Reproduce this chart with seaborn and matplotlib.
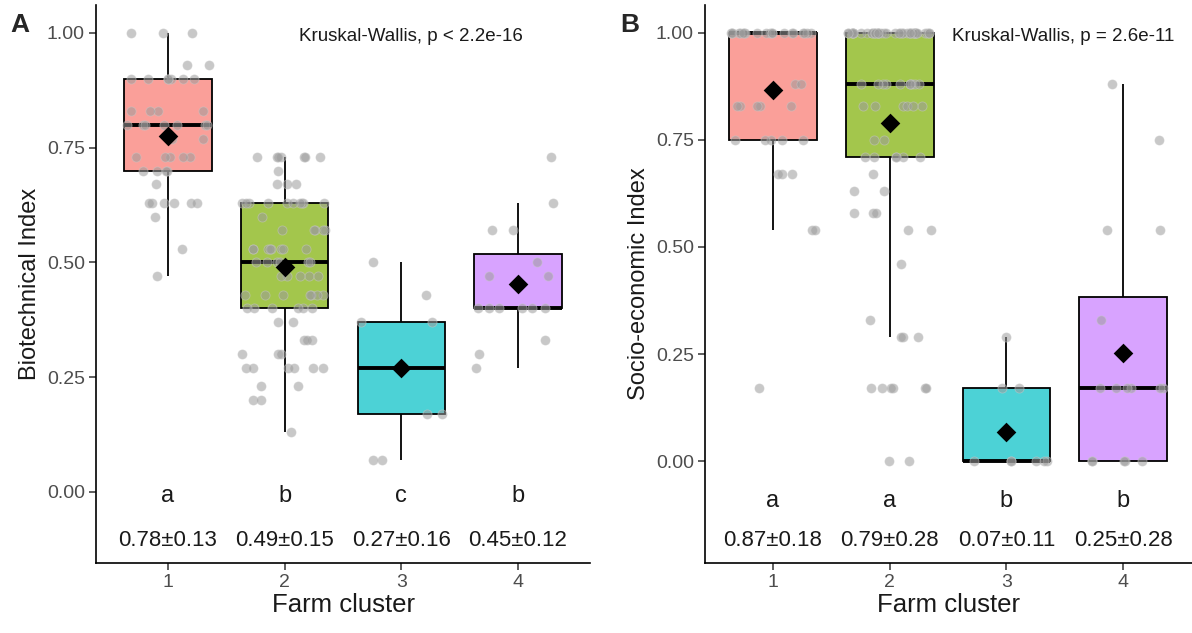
import numpy as np
import pandas as pd
import matplotlib
matplotlib.use("Agg")
import matplotlib.pyplot as plt
import seaborn as sns

# ---------------- data ----------------
clusters = ["1", "2", "3", "4"]

# Panel A : Biotechnical Index, observed levels and how many farms sit on each level
bio_c1_levels = [1.00, 0.93, 0.90, 0.83, 0.80, 0.77, 0.73, 0.70, 0.67, 0.63, 0.60, 0.53, 0.47]
bio_c1_counts = [3, 2, 7, 4, 7, 2, 5, 4, 1, 6, 1, 1, 1]
bio_c2_levels = [0.73, 0.70, 0.67, 0.63, 0.60, 0.57, 0.53, 0.50, 0.47, 0.43, 0.40, 0.37, 0.33, 0.30, 0.27, 0.23, 0.20, 0.13]
bio_c2_counts = [7, 1, 3, 10, 1, 5, 8, 6, 5, 7, 6, 2, 3, 3, 6, 2, 2, 1]
bio_c3_levels = [0.50, 0.43, 0.37, 0.27, 0.17, 0.07]
bio_c3_counts = [1, 1, 2, 1, 2, 2]
bio_c4_levels = [0.73, 0.63, 0.57, 0.50, 0.47, 0.40, 0.33, 0.30, 0.27]
bio_c4_counts = [1, 1, 2, 1, 2, 6, 1, 1, 1]
bio_means = [0.775, 0.49, 0.27, 0.452]
bio_letters = ["a", "b", "c", "b"]
bio_stats = ["0.78±0.13", "0.49±0.15", "0.27±0.16", "0.45±0.12"]
bio_test = "Kruskal-Wallis, p < 2.2e-16"

# Panel B : Socio-economic Index
soc_c1_levels = [1.00, 0.88, 0.83, 0.75, 0.67, 0.54, 0.17]
soc_c1_counts = [20, 2, 5, 5, 3, 2, 1]
soc_c2_levels = [1.00, 0.88, 0.83, 0.75, 0.71, 0.67, 0.63, 0.58, 0.54, 0.46, 0.33, 0.29, 0.17, 0.00]
soc_c2_counts = [41, 10, 6, 2, 6, 1, 2, 3, 2, 1, 1, 3, 6, 2]
soc_c3_levels = [0.29, 0.17, 0.00]
soc_c3_counts = [1, 2, 6]
soc_c4_levels = [0.88, 0.75, 0.54, 0.33, 0.17, 0.00]
soc_c4_counts = [1, 1, 2, 1, 6, 5]
soc_means = [0.866, 0.789, 0.068, 0.253]
soc_letters = ["a", "a", "b", "b"]
soc_stats = ["0.87±0.18", "0.79±0.28", "0.07±0.11", "0.25±0.28"]
soc_test = "Kruskal-Wallis, p = 2.6e-11"

yticks = [0.00, 0.25, 0.50, 0.75, 1.00]
ytick_labels = ["0.00", "0.25", "0.50", "0.75", "1.00"]

# ---------------- style ----------------
box_colors = ["#FA9F99", "#A3C64C", "#4CD2D6", "#D8A3FF"]
FONT = ["Liberation Sans", "DejaVu Sans"]

sns.set_theme(style="white")
plt.rcParams["font.family"] = FONT


def build_frame(level_lists, count_lists):
    rows = []
    for cl, lv, ct in zip(clusters, level_lists, count_lists):
        for v, c in zip(lv, ct):
            rows += [(cl, v)] * c
    return pd.DataFrame(rows, columns=["cluster", "value"])


def draw_panel(ax, df, means, letters, stats, test, ylab, ylim, xlim,
               letter_y, stat_y, test_x, test_y, seed):
    sns.boxplot(data=df, x="cluster", y="value", hue="cluster",
                order=clusters, hue_order=clusters, palette=box_colors,
                width=0.75, showfliers=False, linecolor="black", linewidth=1.3,
                medianprops=dict(linewidth=2.8, color="black"),
                capprops=dict(visible=False),
                saturation=1, legend=False, ax=ax)
    np.random.seed(seed)
    sns.stripplot(data=df, x="cluster", y="value", order=clusters,
                  color="#9c9c9c", alpha=0.55, size=6.6, jitter=0.37,
                  linewidth=0.6, edgecolor="#c8c8c8", ax=ax, zorder=4)
    ax.scatter(np.arange(len(clusters)), means, marker="D", s=100,
               color="black", zorder=6, linewidths=0)
    for i, (l, s) in enumerate(zip(letters, stats)):
        ax.text(i, letter_y, l, ha="center", va="center", fontsize=17,
                color="#1a1a1a")
        ax.text(i, stat_y, s, ha="center", va="center", fontsize=16,
                color="#1a1a1a")
    ax.text(test_x, test_y, test, ha="center", va="center", fontsize=13.5,
            color="#1a1a1a")
    ax.set_xlim(*xlim)
    ax.set_ylim(*ylim)
    ax.set_yticks(yticks)
    ax.set_yticklabels(ytick_labels)
    ax.set_xlabel("Farm cluster", fontsize=18.5, color="#1a1a1a", labelpad=1)
    ax.set_ylabel(ylab, fontsize=17, color="#1a1a1a", labelpad=4)
    ax.tick_params(axis="both", which="both", length=5, width=1.1,
                   color="#333333", labelsize=14, labelcolor="#4d4d4d",
                   direction="out", bottom=True, left=True, pad=3)
    for side in ["top", "right"]:
        ax.spines[side].set_visible(False)
    for side in ["left", "bottom"]:
        ax.spines[side].set_color("black")
        ax.spines[side].set_linewidth(1.2)
    ax.grid(False)


fig = plt.figure(figsize=(11.92, 6.33), dpi=100)
H = 1192.0
V = 633.0
axA = fig.add_axes([96 / H, 1 - 563 / V, (590 - 96) / H, (563 - 5) / V])
axB = fig.add_axes([705 / H, 1 - 563 / V, (1192 - 705) / H, (563 - 5) / V])

dfA = build_frame([bio_c1_levels, bio_c2_levels, bio_c3_levels, bio_c4_levels],
                  [bio_c1_counts, bio_c2_counts, bio_c3_counts, bio_c4_counts])
dfB = build_frame([soc_c1_levels, soc_c2_levels, soc_c3_levels, soc_c4_levels],
                  [soc_c1_counts, soc_c2_counts, soc_c3_counts, soc_c4_counts])

draw_panel(axA, dfA, bio_means, bio_letters, bio_stats, bio_test,
           "Biotechnical Index", (-0.155, 1.061), (-0.617, 3.617),
           -0.01, -0.106, 2.08, 0.993, 7)
draw_panel(axB, dfB, soc_means, soc_letters, soc_stats, soc_test,
           "Socio-economic Index", (-0.238, 1.065), (-0.583, 3.59),
           -0.093, -0.186, 2.49, 0.991, 11)

fig.text(10 / H, 1 - 25 / V, "A", fontsize=19, fontweight="bold", va="center", ha="left")
fig.text(620 / H, 1 - 25 / V, "B", fontsize=19, fontweight="bold", va="center", ha="left")

fig.savefig("out.png", dpi=100)
